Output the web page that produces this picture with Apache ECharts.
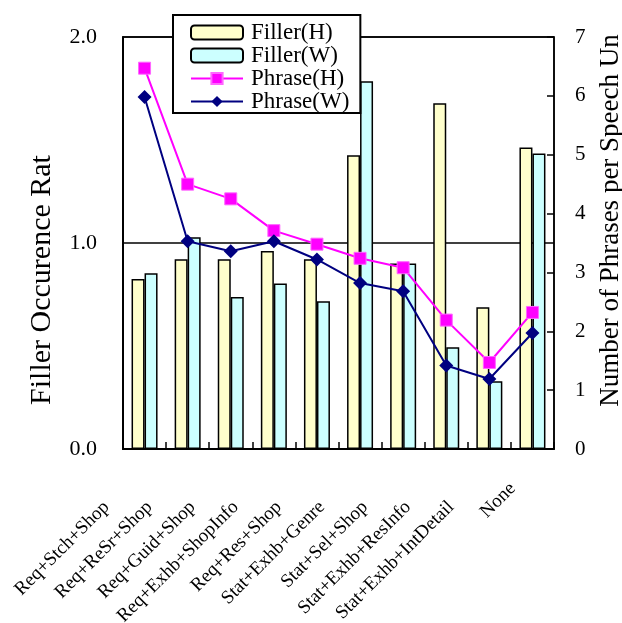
<!DOCTYPE html>
<html>
<head>
<meta charset="utf-8">
<script src="https://cdn.jsdelivr.net/npm/echarts@6/dist/echarts.min.js"></script>
<style>html,body{margin:0;padding:0;background:#fff}#c{width:622px;height:623px}</style>
</head>
<body>
<div id="c"></div>
<script>
const categories = ['Req+Stch+Shop','Req+ReSr+Shop','Req+Guid+Shop','Req+Exhb+ShopInfo','Req+Res+Shop','Stat+Exhb+Genre','Stat+Sel+Shop','Stat+Exhb+ResInfo','Stat+Exhb+IntDetail','None'];
const fillerH = [0.825, 0.921, 0.921, 0.961, 0.921, 1.426, 0.901, 1.678, 0.688, 1.464];
const fillerW = [0.853, 1.028, 0.738, 0.804, 0.717, 1.785, 0.901, 0.494, 0.329, 1.435];
const phraseH = [6.47, 4.50, 4.25, 3.71, 3.48, 3.24, 3.08, 2.19, 1.47, 2.32];
const phraseW = [5.98, 3.53, 3.36, 3.53, 3.22, 2.82, 2.68, 1.42, 1.19, 1.97];
const leftTicks = [0, 1, 2];
const rightTicks = [0, 1, 2, 3, 4, 5, 6, 7];

const FONT = "'Liberation Serif','Times New Roman',serif";
const chart = echarts.init(document.getElementById('c'), null, {renderer: 'canvas'});
const xData = categories.map(c => c === 'None' ? {value: c, textStyle: {padding: [0, 28, 0, 0]}} : c);
chart.setOption({
  animation: false,
  backgroundColor: '#fff',
  textStyle: {fontFamily: FONT, color: '#000'},
  grid: {left: 123, right: 68, top: 37, bottom: 174, show: true, borderColor: '#000', borderWidth: 1.5, containLabel: false, outerBoundsMode: 'none'},
  legend: {
    orient: 'vertical', left: 173, top: 15,
    backgroundColor: '#fff', borderColor: '#000', borderWidth: 2,
    padding: [6, 11, 0, 17],
    itemWidth: 52, itemHeight: 14, itemGap: 0,
    textStyle: {fontFamily: FONT, fontSize: 23, color: '#000', lineHeight: 22, padding: [0, 0, 0, 3]},
    data: ['Filler(H)', 'Filler(W)', 'Phrase(H)', 'Phrase(W)']
  },
  xAxis: {
    type: 'category', data: xData, boundaryGap: true,
    axisLine: {show: true, lineStyle: {color: '#000', width: 2}},
    axisTick: {show: true, inside: true, length: 7, alignWithLabel: false, lineStyle: {color: '#000', width: 1.5}},
    axisLabel: {interval: 0, rotate: 45, fontSize: 19, fontFamily: FONT, color: '#000', margin: 17, padding: [0, 54, 0, 0]},
    splitLine: {show: false}
  },
  yAxis: [{
    type: 'value', min: 0, max: 2, interval: 1, position: 'left',
    name: 'Filler Occurence Rate', nameLocation: 'middle', nameRotate: 90, nameGap: 66,
    nameTruncate: {maxWidth: 256, ellipsis: ''},
    nameTextStyle: {fontFamily: FONT, fontSize: 30, color: '#000', padding: [0, 74, 0, 0]},
    axisLine: {show: true, lineStyle: {color: '#000', width: 2}},
    axisTick: {show: false},
    axisLabel: {fontSize: 22, fontFamily: FONT, color: '#000', margin: 26, formatter: v => leftTicks.includes(v) ? v.toFixed(1) : ''},
    splitLine: {show: true, lineStyle: {color: '#000', width: 1.5}}
  }, {
    type: 'value', min: 0, max: 7, interval: 1, position: 'right',
    name: 'Number of Phrases per Speech Unit', nameLocation: 'middle', nameRotate: 90, nameGap: 43,
    nameTruncate: {maxWidth: 376, ellipsis: ''},
    nameTextStyle: {fontFamily: FONT, fontSize: 27, color: '#000', padding: [0, 0, 0, 45]},
    axisLine: {show: true, lineStyle: {color: '#000', width: 1.5}},
    axisTick: {show: true, inside: true, length: 7, lineStyle: {color: '#000', width: 1.5}},
    axisLabel: {fontSize: 21, fontFamily: FONT, color: '#000', margin: 21, formatter: v => rightTicks.includes(v) ? String(v) : ''},
    splitLine: {show: false}
  }],
  series: [
    {name: 'Filler(H)', type: 'bar', data: fillerH, barWidth: 13, barGap: '0%', yAxisIndex: 0,
     itemStyle: {color: '#FFFFCC', borderColor: '#000', borderWidth: 1.5}},
    {name: 'Filler(W)', type: 'bar', data: fillerW, barWidth: 13, barGap: '0%', yAxisIndex: 0,
     itemStyle: {color: '#CCFFFF', borderColor: '#000', borderWidth: 1.5}},
    {name: 'Phrase(H)', type: 'line', data: phraseH, yAxisIndex: 1, symbol: 'rect', symbolSize: 12,
     lineStyle: {color: '#FF00FF', width: 2}, itemStyle: {color: '#FF00FF', borderColor: '#FF66FF', borderWidth: 1}, z: 5},
    {name: 'Phrase(W)', type: 'line', data: phraseW, yAxisIndex: 1, symbol: 'diamond', symbolSize: 14,
     lineStyle: {color: '#000080', width: 2}, itemStyle: {color: '#000080'}, z: 6}
  ]
});
</script>
</body>
</html>
